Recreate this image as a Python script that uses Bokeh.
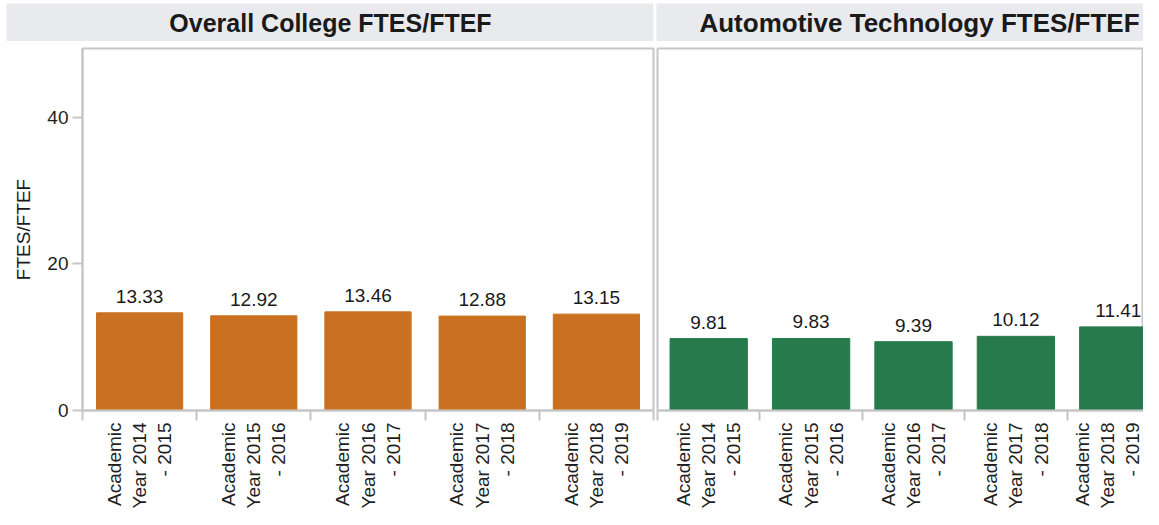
import math
from bokeh.plotting import figure
from bokeh.models import Range1d, FixedTicker, Label
from bokeh.layouts import column, row
from bokeh.embed import file_html
from bokeh.resources import INLINE
from bokeh.core.properties import value

# ---- data ----
years = ["Academic Year 2014 - 2015", "Academic Year 2015 - 2016",
         "Academic Year 2016 - 2017", "Academic Year 2017 - 2018",
         "Academic Year 2018 - 2019"]
tick_labels = ["Academic\nYear 2014\n- 2015", "Academic\nYear 2015\n- 2016",
               "Academic\nYear 2016\n- 2017", "Academic\nYear 2017\n- 2018",
               "Academic\nYear 2018\n- 2019"]
college_ftes_ftef = [13.33, 12.92, 13.46, 12.88, 13.15]
auto_ftes_ftef = [9.81, 9.83, 9.39, 10.12, 11.41]
panel_titles = ["Overall College FTES/FTEF", "Automotive Technology FTES/FTEF"]
y_ticks = [0, 20, 40]

FONT = "Liberation Sans"
ORANGE = "#c97120"
GREEN = "#277a4b"
GRAY = "#c6c6c6"
HEADER_BG = "#e9eaee"


def header(title, frame_w, left_gap, right_gap, text_x, size):
    h = figure(frame_width=frame_w, frame_height=38, x_range=Range1d(0, frame_w),
               y_range=Range1d(0, 38), toolbar_location=None, output_backend="svg",
               x_axis_location=None, y_axis_location=None,
               min_border_left=left_gap, min_border_right=right_gap, min_border_top=3,
               min_border_bottom=0, background_fill_color=HEADER_BG,
               border_fill_color="white", outline_line_color=None)
    h.xgrid.visible = False
    h.ygrid.visible = False
    h.add_layout(Label(x=text_x, y=19, text=title, text_align="center",
                       text_baseline="middle", text_font=FONT,
                       text_font_size=size, text_font_style="bold",
                       text_color="#1a1a1a"))
    return h


def panel(values, color, frame_w, x_end, show_y, border_left, border_right):
    n = len(values)
    centers = [i + 0.5 for i in range(n)]
    p = figure(frame_width=frame_w, frame_height=362,
               x_range=Range1d(0, x_end), y_range=Range1d(0, 49.4),
               toolbar_location=None, output_backend="svg",
               y_axis_location="left" if show_y else None,
               min_border_left=border_left, min_border_right=border_right,
               min_border_top=7, min_border_bottom=0,
               outline_line_color=GRAY, outline_line_width=2,
               background_fill_color="white", border_fill_color="white")
    p.xgrid.visible = False
    p.ygrid.visible = False
    p.vbar(x=centers, top=values, width=0.755, color=color, line_color=color)
    p.text(x=centers, y=values, text=[f"{v:.2f}" for v in values],
           text_align="center", text_baseline="bottom", y_offset=-10,
           text_font=value(FONT), text_font_size="19px", text_color="#1a1a1a")

    xa = p.xaxis[0]
    xa.ticker = FixedTicker(ticks=centers, minor_ticks=list(range(n + 1)))
    xa.major_label_overrides = {c: t for c, t in zip(centers, tick_labels)}
    xa.major_label_orientation = math.pi / 2
    xa.major_label_text_font = FONT
    xa.major_label_text_font_size = "19px"
    xa.major_label_text_color = "#1e1e1e"
    xa.major_label_standoff = 2
    xa.major_tick_line_color = None
    xa.minor_tick_line_color = GRAY
    xa.minor_tick_line_width = 2
    xa.minor_tick_out = 10
    xa.minor_tick_in = 0
    xa.axis_line_color = GRAY
    xa.axis_line_width = 2

    if show_y:
        ya = p.yaxis[0]
        ya.ticker = FixedTicker(ticks=y_ticks, minor_ticks=[])
        ya.axis_label = "FTES/FTEF"
        ya.axis_label_text_font = FONT
        ya.axis_label_text_font_size = "19px"
        ya.axis_label_text_font_style = "normal"
        ya.axis_label_text_color = "#1a1a1a"
        ya.axis_label_standoff = 10
        ya.major_label_text_font = FONT
        ya.major_label_text_font_size = "19px"
        ya.major_label_text_color = "#1e1e1e"
        ya.major_label_standoff = 4
        ya.major_tick_line_color = GRAY
        ya.major_tick_line_width = 2
        ya.major_tick_out = 10
        ya.major_tick_in = 0
        ya.axis_line_color = GRAY
        ya.axis_line_width = 2
    return p


h1 = header(panel_titles[0], 647, 6, 3, 324, "25px")
h2 = header(panel_titles[1], 487, 0, 0, 263, "26px")
p1 = panel(college_ftes_ftef, ORANGE, 571, 5, True, 82, 3)
p2 = panel(auto_ftes_ftef, GREEN, 486, 486 / 102.4, False, 1, 0)

layout = column(row(h1, h2), row(p1, p2))
open("out.html", "w").write(file_html(layout, INLINE))
